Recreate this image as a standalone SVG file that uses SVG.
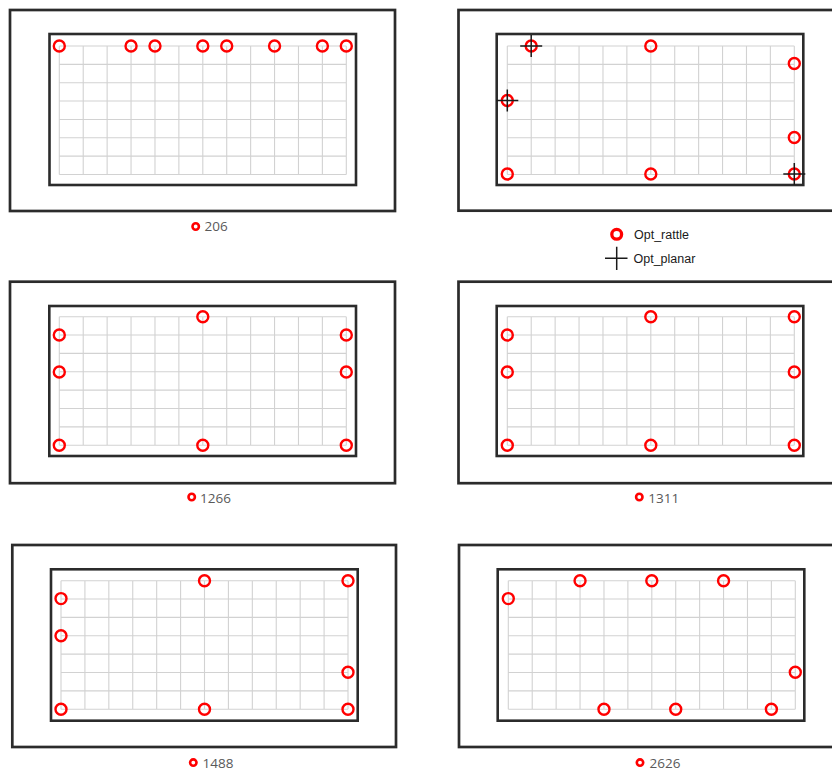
<svg xmlns="http://www.w3.org/2000/svg" xmlns:xlink="http://www.w3.org/1999/xlink" width="832" height="770" viewBox="0 0 832 770">
<style>
.outer{fill:#fff;stroke:#2b2b2b;stroke-width:2.7}
.inner{fill:#fff;stroke:#2b2b2b;stroke-width:2.6}
.grid{fill:none;stroke:#d2d2d2;stroke-width:1.1}
.pt{fill:none;stroke:#ff0000;stroke-width:2.4}
.lpt{fill:none;stroke:#ff0000;stroke-width:2.6}
.cross{fill:none;stroke:#1a1a1a;stroke-width:1.5}
.lbl{font-family:"Open Sans","Liberation Sans",sans-serif;font-size:13.5px;fill:#595959}
.leg{font-family:"Liberation Sans",Arial,sans-serif;font-size:12.5px;fill:#1a1a1a}
</style>
<defs>
<path id="grid" class="grid" d="M0,0V128.5M23.92,0V128.5M47.83,0V128.5M71.75,0V128.5M95.67,0V128.5M119.58,0V128.5M143.5,0V128.5M167.42,0V128.5M191.33,0V128.5M215.25,0V128.5M239.17,0V128.5M263.08,0V128.5M287,0V128.5M0,0H287M0,18.36H287M0,36.71H287M0,55.07H287M0,73.43H287M0,91.79H287M0,110.14H287M0,128.5H287"/>
<circle id="pt" class="pt" r="5.5"/>
<path id="cross" class="cross" d="M-11,0H11M0,-11V11"/>
</defs>

<g id="panel-206">
<rect class="outer" x="10" y="10" width="385" height="201"/>
<rect class="inner" x="49.5" y="34" width="306.5" height="151"/>
<use xlink:href="#grid" x="59.3" y="46"/>
<use xlink:href="#pt" x="59.3" y="46"/>
<use xlink:href="#pt" x="131.05" y="46"/>
<use xlink:href="#pt" x="154.97" y="46"/>
<use xlink:href="#pt" x="202.8" y="46"/>
<use xlink:href="#pt" x="226.72" y="46"/>
<use xlink:href="#pt" x="274.55" y="46"/>
<use xlink:href="#pt" x="322.38" y="46"/>
<use xlink:href="#pt" x="346.3" y="46"/>
<circle class="lpt" cx="195.7" cy="226.5" r="3.2"/>
<text class="lbl" x="204.5" y="231.3">206</text>
</g>

<g id="panel-opt">
<rect class="outer" x="458.5" y="10" width="400" height="200.7"/>
<rect class="inner" x="496.7" y="34" width="306.6" height="151"/>
<use xlink:href="#grid" x="507.3" y="46"/>
<use xlink:href="#pt" x="531.2" y="46"/>
<use xlink:href="#cross" x="531.2" y="46"/>
<use xlink:href="#pt" x="650.8" y="46"/>
<use xlink:href="#pt" x="794.3" y="63.5"/>
<use xlink:href="#pt" x="507.3" y="100.5"/>
<use xlink:href="#cross" x="507.3" y="100.5"/>
<use xlink:href="#pt" x="794.3" y="137.5"/>
<use xlink:href="#pt" x="507.3" y="174"/>
<use xlink:href="#pt" x="650.8" y="174"/>
<use xlink:href="#pt" x="794.3" y="174"/>
<use xlink:href="#cross" x="794.3" y="174"/>
</g>

<g id="legend">
<circle cx="616.7" cy="234.3" r="4.9" fill="none" stroke="#ff0000" stroke-width="3.3"/>
<text class="leg" x="634" y="238.6">Opt_rattle</text>
<path class="cross" d="M605,258.3H627.5M616.7,246.7V270"/>
<text class="leg" x="633.5" y="262.6">Opt_planar</text>
</g>

<g id="panel-1266">
<rect class="outer" x="10" y="281.7" width="385" height="201.5"/>
<rect class="inner" x="49.3" y="306" width="306.7" height="150"/>
<use xlink:href="#grid" x="59.3" y="316.7"/>
<use xlink:href="#pt" x="202.8" y="316.7"/>
<use xlink:href="#pt" x="59.3" y="335.06"/>
<use xlink:href="#pt" x="59.3" y="372"/>
<use xlink:href="#pt" x="59.3" y="445.2"/>
<use xlink:href="#pt" x="202.8" y="445.2"/>
<use xlink:href="#pt" x="346.3" y="335.06"/>
<use xlink:href="#pt" x="346.3" y="372"/>
<use xlink:href="#pt" x="346.3" y="445.2"/>
<circle class="lpt" cx="191.7" cy="497" r="3.2"/>
<text class="lbl" x="200" y="502.5">1266</text>
</g>

<g id="panel-1311">
<rect class="outer" x="458.5" y="281.7" width="400" height="201.5"/>
<rect class="inner" x="496.7" y="306" width="306.6" height="150"/>
<use xlink:href="#grid" x="507.3" y="316.7"/>
<use xlink:href="#pt" x="650.8" y="316.7"/>
<use xlink:href="#pt" x="794.3" y="316.7"/>
<use xlink:href="#pt" x="507.3" y="335.06"/>
<use xlink:href="#pt" x="507.3" y="372"/>
<use xlink:href="#pt" x="507.3" y="445.2"/>
<use xlink:href="#pt" x="650.8" y="445.2"/>
<use xlink:href="#pt" x="794.3" y="372"/>
<use xlink:href="#pt" x="794.3" y="445.2"/>
<circle class="lpt" cx="639.3" cy="497" r="3.2"/>
<text class="lbl" x="648.3" y="502.5">1311</text>
</g>

<g id="panel-1488">
<rect class="outer" x="12.3" y="545" width="383.7" height="202"/>
<rect class="inner" x="51" y="569.3" width="306.7" height="151.4"/>
<use xlink:href="#grid" x="61" y="580.7"/>
<use xlink:href="#pt" x="204.5" y="580.7"/>
<use xlink:href="#pt" x="348" y="580.7"/>
<use xlink:href="#pt" x="61" y="598.6"/>
<use xlink:href="#pt" x="61" y="635.8"/>
<use xlink:href="#pt" x="61" y="709.2"/>
<use xlink:href="#pt" x="204.5" y="709.2"/>
<use xlink:href="#pt" x="348" y="672.3"/>
<use xlink:href="#pt" x="348" y="709.2"/>
<circle class="lpt" cx="193.3" cy="762.6" r="3.2"/>
<text class="lbl" x="202.5" y="767.5">1488</text>
</g>

<g id="panel-2626">
<rect class="outer" x="459" y="545" width="400" height="202"/>
<rect class="inner" x="497.7" y="569.3" width="306.6" height="151.4"/>
<use xlink:href="#grid" x="508.3" y="580.7"/>
<use xlink:href="#pt" x="580.05" y="580.7"/>
<use xlink:href="#pt" x="651.8" y="580.7"/>
<use xlink:href="#pt" x="723.55" y="580.7"/>
<use xlink:href="#pt" x="508.3" y="598.6"/>
<use xlink:href="#pt" x="795.3" y="672.3"/>
<use xlink:href="#pt" x="603.97" y="709.2"/>
<use xlink:href="#pt" x="675.72" y="709.2"/>
<use xlink:href="#pt" x="771.38" y="709.2"/>
<circle class="lpt" cx="640" cy="762.6" r="3.2"/>
<text class="lbl" x="649.5" y="767.5">2626</text>
</g>
</svg>
